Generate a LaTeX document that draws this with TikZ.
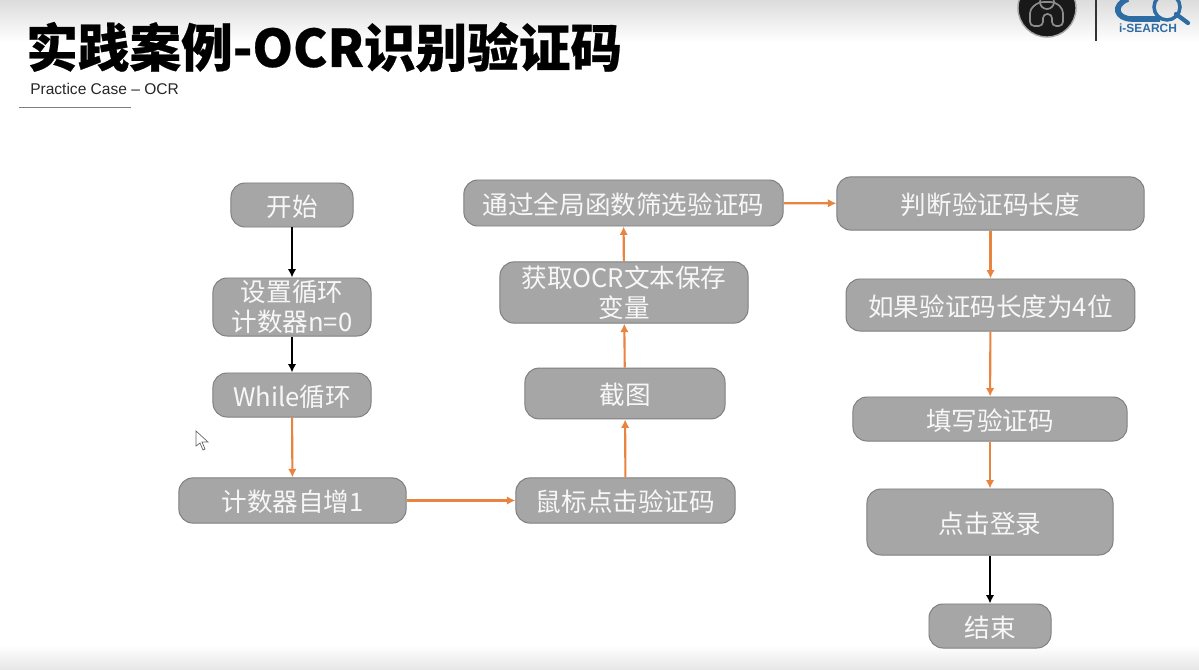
\documentclass[tikz,border=0pt]{standalone}
\usepackage{fontspec}
\setmainfont{Noto Sans CJK SC}
\newfontfamily\latinfont{Liberation Sans}
\newfontfamily\titlefont[BoldFeatures={FakeBold=0.5}]{Noto Sans CJK SC}
\usetikzlibrary{arrows.meta}
\definecolor{boxfill}{HTML}{A6A6A6}
\definecolor{boxline}{HTML}{7F7F7F}
\definecolor{boxtext}{HTML}{F7F7F7}
\definecolor{orangeline}{HTML}{E8843F}
\definecolor{logoblue}{HTML}{2E6DA4}
\definecolor{topgray}{HTML}{DCDCDC}
\tikzset{
  flowbox/.style={draw=boxline,fill=boxfill,rounded corners=0.35cm,line width=0.7pt,text=boxtext,font=\fontsize{18.2}{21}\selectfont,align=center,inner sep=0pt,execute at begin node={\rule{0pt}{17.5pt}}},
  orangearrow/.style={-{Latex[length=6pt,width=6pt]},line width=1.5pt,orangeline},
  blackarrow/.style={-{Latex[length=6pt,width=6pt]},line width=1.5pt,black}
}
\begin{document}
\begin{tikzpicture}[x=0.025cm,y=-0.025cm]
\clip (0,0) rectangle (1199,670);
% background
\fill[white] (0,0) rectangle (1199,670);
\shade[top color=topgray,bottom color=white] (0,0) rectangle (1199,42);
\shade[top color=white,bottom color=topgray!70] (0,645) rectangle (1199,670);
% title
\node[anchor=west,inner sep=0pt,font=\fontsize{36.7}{40}\titlefont\bfseries\selectfont] (title) at (26,47) {实践案例-OCR识别验证码};
\node[anchor=west,inner sep=0pt,font=\fontsize{11.05}{14}\latinfont,text=black!85] (subtitle) at (30,89) {Practice Case – OCR};
\draw[boxline,line width=1pt] (19,107.5) -- (131,107.5);
% logos
\fill[black!90,draw=black!35,line width=1pt] (1047,8) circle (29);
\draw[black!45,line width=1.2pt,rounded corners=3pt] (1030,26) -- (1030,9) -- (1039,2) -- (1055,2) -- (1063,9) -- (1063,26) -- (1052,26) -- (1052,14) -- (1043,14) -- (1043,26) -- cycle;
\draw[black!45,line width=1.2pt] (1047,2) circle (7);
\draw[black!80,line width=0.8pt] (1096,0) -- (1096,41);
\draw[logoblue,line width=4pt] (1128,-1) .. controls (1112,5) and (1116,19) .. (1132,19) -- (1160,19);
\draw[logoblue,line width=2.5pt] (1167,7) circle (13);
\draw[logoblue,line width=3pt,line cap=round] (1176,14) -- (1188,23);
\node[inner sep=0pt,text=logoblue,font=\fontsize{8.5}{9}\bfseries\latinfont] (logotext) at (1148,28) {i-SEARCH};
% left column
\node[flowbox,minimum width=3.05cm,minimum height=1.1cm] (start) at (292,205) {开始};
\node[flowbox,minimum width=3.95cm,minimum height=1.45cm] (loopset) at (292,307) {设置循环\\计数器n=0};
\node[flowbox,minimum width=3.95cm,minimum height=1.1cm] (whileloop) at (292,395) {While循环};
\node[flowbox,minimum width=5.68cm,minimum height=1.13cm] (counter) at (292.5,500.5) {计数器自增1};
% middle column
\node[flowbox,minimum width=5.48cm,minimum height=1.13cm] (click) at (625.5,500.5) {鼠标点击验证码};
\node[flowbox,minimum width=5cm,minimum height=1.27cm] (shot) at (625,393.5) {截图};
\node[flowbox,minimum width=6.2cm,minimum height=1.53cm] (ocrtext) at (624,292.5) {获取OCR文本保存\\变量};
\node[flowbox,minimum width=7.98cm,minimum height=1.15cm] (filter) at (623.5,203) {通过全局函数筛选验证码};
% right column
\node[flowbox,minimum width=7.68cm,minimum height=1.33cm] (length) at (990.5,203.5) {判断验证码长度};
\node[flowbox,minimum width=7.22cm,minimum height=1.3cm] (isfour) at (990.5,305) {如果验证码长度为4位};
\node[flowbox,minimum width=6.85cm,minimum height=1.1cm] (fillin) at (990,419) {填写验证码};
\node[flowbox,minimum width=6.15cm,minimum height=1.65cm] (login) at (990,522) {点击登录};
\node[flowbox,minimum width=3.05cm,minimum height=1.1cm] (finish) at (990,626) {结束};
% connectors
\draw[blackarrow] (start) -- (loopset);
\draw[blackarrow] (loopset) -- (whileloop);
\draw[orangearrow] (whileloop) -- (counter);
\draw[orangearrow] (counter) -- (click);
\draw[orangearrow] (click) -- (shot);
\draw[orangearrow] (shot) -- (ocrtext);
\draw[orangearrow] (ocrtext) -- (filter);
\draw[orangearrow] (filter) -- (length);
\draw[orangearrow] (length) -- (isfour);
\draw[orangearrow] (isfour) -- (fillin);
\draw[orangearrow] (fillin) -- (login);
\draw[blackarrow] (login) -- (finish);
% mouse pointer
\draw[black!60,fill=white,line width=0.5pt] (196,431) -- (196,446) -- (200,443) -- (203,450) -- (205,449) -- (202,442) -- (208,442) -- cycle;
\end{tikzpicture}
\end{document}
